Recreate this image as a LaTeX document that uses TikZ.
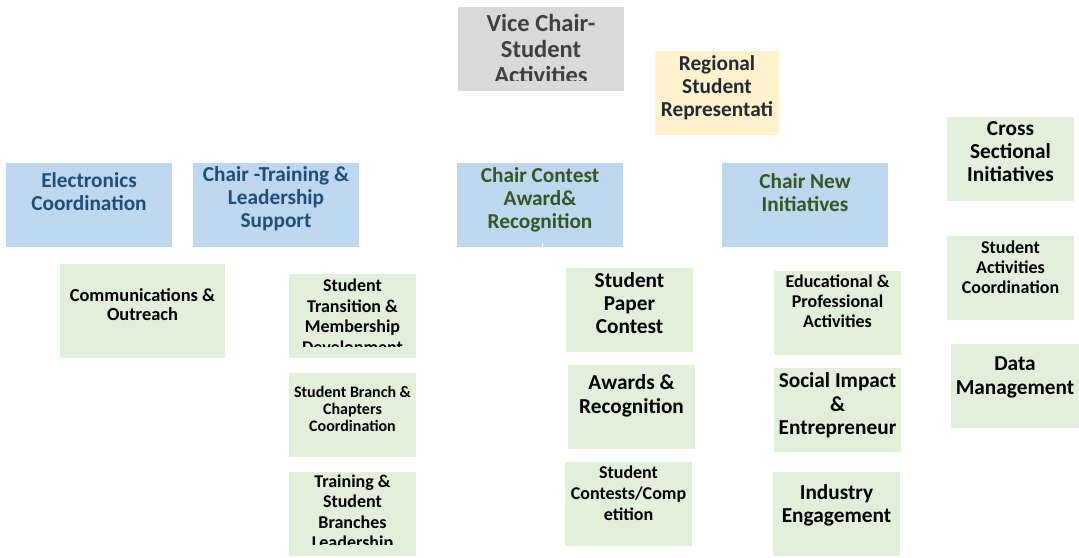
\documentclass[tikz,border=0pt]{standalone}
\usepackage{fontspec}
\setmainfont{Carlito}
\usepackage{xcolor}
\usetikzlibrary{positioning}
\definecolor{headblue}{HTML}{BDD7EE}
\definecolor{subgreen}{HTML}{E2EFDA}
\definecolor{vcgray}{HTML}{D9D9D9}
\definecolor{regyellow}{HTML}{FFF2CC}
\definecolor{bluetext}{HTML}{1F4E79}
\definecolor{greentext}{HTML}{375623}
\definecolor{graytext}{HTML}{404040}
\definecolor{regtext}{HTML}{222A35}

\begin{document}
\begin{tikzpicture}[x=1pt,y=-1pt,
    box/.style={rectangle, inner sep=0pt, minimum width=127pt, minimum height=84pt, fill=subgreen},
    head/.style={box, minimum width=166pt, fill=headblue},
    txt/.style={inner sep=0pt, align=center},
    fs/.style 2 args={font=\bfseries\fontsize{#1}{#2}\selectfont}]
    \useasboundingbox (0,0) rectangle (1079,557);
    % top
    \node[box, minimum width=166pt, fill=vcgray] (vc) at (541,49) {};
    \node[box, minimum width=124pt, fill=regyellow] (reg) at (717,93) {};
    \begin{scope}
        \clip (vc.north west) rectangle ([yshift=11pt]vc.south east);
        \node[txt, fs={24.5}{26}, text=graytext, below=7pt of vc.north] (vct) {Vice Chair-\\Student\\Activities};
    \end{scope}
    \node[txt, fs={21.3}{23}, text=regtext, below=5pt of reg.north] (regt) {Regional\\Student\\Representati};
    % chairs
    \node[head] (elec) at (89,205) {};
    \node[head] (ctr) at (276,205) {};
    \node[head] (cc) at (540,205) {};
    \node[head] (cn) at (805,205) {};
    \node[txt, fs={21.3}{23}, text=bluetext, below=10pt of elec.north] (elect) {Electronics\\Coordination};
    \node[txt, fs={21.3}{23}, text=bluetext, below=4pt of ctr.north] (ctrt) {Chair -Training \&\\Leadership\\Support};
    \node[txt, fs={21.3}{23}, text=greentext, below=5pt of cc.north] (cct) {Chair Contest\\Award\&\\Recognition};
    \node[txt, fs={21.3}{23}, text=greentext, below=11pt of cn.north] (cnt) {Chair New\\Initiatives};
    \coordinate (tick) at ([xshift=2pt,yshift=4pt]cc.south);
    \draw[white, line width=1pt] (tick) -- ([xshift=2pt]cc.south);
    % right column
    \node[box] (cross) at (1010.5,159) {};
    \node[box] (sac) at (1010.5,278) {};
    \node[box, minimum width=128pt] (data) at (1015,386) {};
    \node[txt, fs={21.3}{23}, below=5pt of cross.north] (crosst) {Cross\\Sectional\\Initiatives};
    \node[txt, fs={18}{20}, below=5pt of sac.north] (sact) {Student\\Activities\\Coordination};
    \node[txt, fs={21.3}{24}, below=13pt of data.north] (datat) {Data\\Management};
    % training and leadership
    \node[box, minimum width=165pt, minimum height=94pt] (comm) at (142.5,311) {};
    \node[box] (stm) at (352.5,316) {};
    \node[box] (sbc) at (352.5,415) {};
    \node[box] (tsb) at (352.5,514) {};
    \node[txt, fs={18.4}{19}, below=25pt of comm.north] (commt) {Communications \&\\Outreach};
    \begin{scope}
        \clip (stm.north west) rectangle ([yshift=12pt]stm.south east);
        \node[txt, fs={18}{20.5}, below=5pt of stm.north] (stmt) {Student\\Transition \&\\Membership\\Development};
    \end{scope}
    \node[txt, fs={16}{17}, below=13pt of sbc.north] (sbct) {Student Branch \&\\Chapters\\Coordination};
    \begin{scope}
        \clip (tsb.north west) rectangle ([yshift=12pt]tsb.south east);
        \node[txt, fs={18}{20.3}, below=3pt of tsb.north] (tsbt) {Training \&\\Student\\Branches\\Leadership};
    \end{scope}
    % contest and awards
    \node[box] (spc) at (629.5,310) {};
    \node[box] (awr) at (631.5,407) {};
    \node[box] (scc) at (628.5,504) {};
    \node[txt, fs={21.3}{23}, below=5pt of spc.north] (spct) {Student\\Paper\\Contest};
    \node[txt, fs={21.3}{24}, below=10pt of awr.north] (awrt) {Awards \&\\Recognition};
    \node[txt, fs={18}{20.7}, below=4pt of scc.north] (scct) {Student\\Contests/Comp\\etition};
    % new initiatives
    \node[box] (edu) at (837.5,313) {};
    \node[box] (soc) at (837.5,410) {};
    \node[box] (ind) at (836.5,514) {};
    \node[txt, fs={18}{20}, below=4pt of edu.north] (edut) {Educational \&\\Professional\\Activities};
    \node[txt, fs={21.3}{23.5}, below=5pt of soc.north] (soct) {Social Impact\\\&\\Entrepreneur};
    \node[txt, fs={21.3}{23}, below=13pt of ind.north] (indt) {Industry\\Engagement};
\end{tikzpicture}
\end{document}
